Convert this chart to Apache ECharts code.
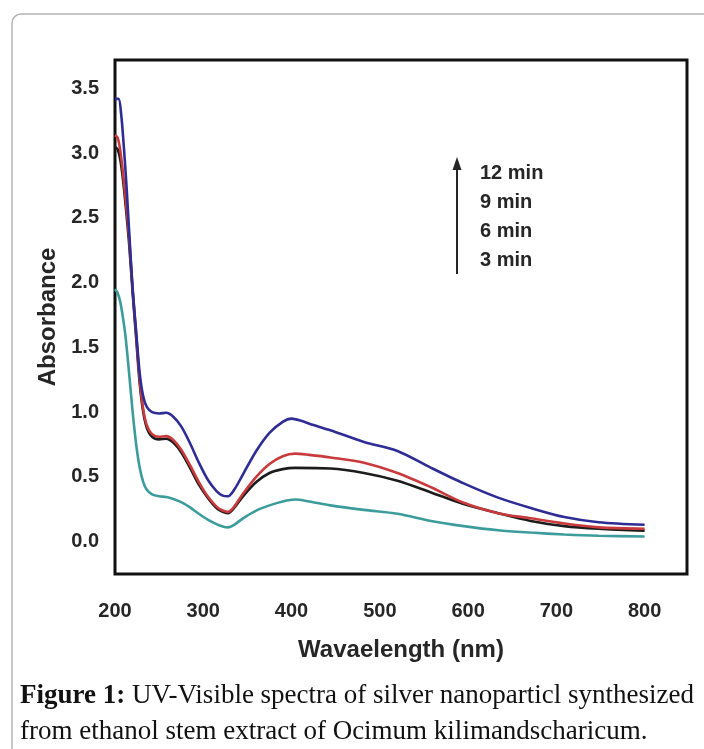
<!DOCTYPE html>
<html>
<head>
<meta charset="utf-8">
<title>UV-Visible spectra</title>
<script src="https://cdn.jsdelivr.net/npm/echarts@6/dist/echarts.min.js"></script>
<style>
  html, body { margin: 0; padding: 0; background: #fff; }
  #chart { width: 704px; height: 749px; }
</style>
</head>
<body>
<div id="chart"></div>
<script>
// wavelength (nm) / absorbance pairs
var min12 = [[200,3.42],[204,3.42],[207,3.3],[210,3.05],[213,2.75],[216,2.4],[220,1.95],[224,1.62],[228,1.3],[232,1.12],[236,1.04],[242,1.0],[250,0.99],[258,0.995],[266,0.965],[275,0.89],[285,0.76],[295,0.61],[305,0.48],[315,0.39],[322,0.355],[328,0.35],[335,0.4],[345,0.52],[360,0.7],[375,0.84],[390,0.925],[400,0.95],[410,0.935],[425,0.9],[444,0.86],[482,0.77],[520,0.70],[558,0.57],[595,0.45],[634,0.34],[671,0.26],[709,0.19],[748,0.15],[800,0.13]];
var min9 = [[200,3.14],[203,3.12],[206,3.02],[209,2.85],[212,2.65],[216,2.35],[220,1.95],[224,1.6],[228,1.25],[232,1.02],[236,0.9],[242,0.83],[250,0.81],[258,0.815],[266,0.785],[275,0.71],[285,0.59],[295,0.46],[305,0.35],[315,0.27],[322,0.24],[328,0.23],[335,0.27],[345,0.37],[360,0.5],[375,0.6],[390,0.66],[404,0.68],[420,0.67],[444,0.65],[482,0.61],[520,0.53],[558,0.42],[595,0.30],[634,0.22],[671,0.18],[709,0.14],[748,0.11],[800,0.10]];
var min6 = [[200,3.05],[203,3.03],[206,2.95],[209,2.8],[212,2.6],[216,2.3],[220,1.92],[224,1.57],[228,1.22],[232,1.0],[236,0.88],[242,0.81],[250,0.79],[258,0.795],[266,0.765],[275,0.69],[285,0.57],[295,0.44],[305,0.34],[315,0.26],[322,0.23],[328,0.22],[335,0.26],[345,0.35],[360,0.46],[375,0.53],[390,0.56],[404,0.57],[444,0.565],[482,0.53],[520,0.47],[558,0.38],[595,0.29],[634,0.22],[671,0.16],[709,0.12],[748,0.10],[800,0.085]];
var min3 = [[200,1.95],[203,1.92],[206,1.85],[209,1.73],[212,1.58],[216,1.3],[220,1.0],[224,0.75],[228,0.57],[232,0.46],[236,0.4],[242,0.365],[250,0.35],[258,0.345],[266,0.33],[275,0.305],[285,0.265],[295,0.215],[305,0.17],[315,0.135],[322,0.117],[328,0.11],[335,0.13],[345,0.18],[360,0.24],[375,0.28],[390,0.31],[404,0.325],[420,0.31],[444,0.28],[482,0.245],[520,0.215],[558,0.16],[595,0.12],[634,0.088],[671,0.07],[709,0.055],[748,0.045],[800,0.04]];

var legendLabels = ['12 min', '9 min', '6 min', '3 min'];
var captionBold = 'Figure 1:';
var captionLine1 = ' UV-Visible spectra of silver nanoparticl synthesized';
var captionLine2 = 'from ethanol stem extract of Ocimum kilimandscharicum.';

var chart = echarts.init(document.getElementById('chart'), null, {renderer: 'canvas'});

var sans = '"Liberation Sans", Arial, sans-serif';
var serif = '"Liberation Serif", "Times New Roman", serif';
var ink = '#262626';

function line(name, data, color) {
  return {
    name: name,
    type: 'line',
    data: data,
    smooth: 0.3,
    showSymbol: false,
    lineStyle: {color: color, width: 2.6},
    silent: true
  }
}

var annot = [
  {type: 'line', shape: {x1: 457, y1: 274, x2: 457, y2: 166}, style: {stroke: ink, lineWidth: 2}},
  {type: 'polygon', shape: {points: [[457, 157], [452.5, 170], [461.5, 170]]}, style: {fill: ink}}
];
legendLabels.forEach(function (t, i) {
  annot.push({
    type: 'text', x: 480, y: 173 + i * 29.3,
    style: {text: t, font: 'bold 20px ' + sans, fill: ink, verticalAlign: 'middle'}
  })
});

chart.setOption({
  animation: false,
  backgroundColor: '#fff',
  grid: {left: 115, right: 17, top: 60, bottom: 175, show: true, borderColor: '#111', borderWidth: 3, backgroundColor: 'transparent'},
  xAxis: {
    type: 'value', min: 200, max: 848, interval: 100,
    axisLine: {show: false}, axisTick: {show: false}, splitLine: {show: false},
    axisLabel: {showMaxLabel: false, margin: 27, color: ink, fontFamily: sans, fontWeight: 'bold', fontSize: 20},
    name: 'Wavaelength (nm)', nameLocation: 'middle', nameGap: 64,
    nameTextStyle: {color: ink, fontFamily: sans, fontWeight: 'bold', fontSize: 24}
  },
  yAxis: {
    type: 'value', min: -0.25, max: 3.72, interval: 0.25,
    axisLine: {show: false}, axisTick: {show: false}, splitLine: {show: false},
    axisLabel: {
      showMaxLabel: false, margin: 16, color: ink, fontFamily: sans, fontWeight: 'bold', fontSize: 20,
      formatter: function (v) {
        var r = Math.round(v * 100) / 100;
        if (r < 0 || Math.abs(r * 2 - Math.round(r * 2)) > 1e-6) return '';
        return r.toFixed(1);
      }
    },
    name: 'Absorbance', nameLocation: 'middle', nameRotate: 90, nameGap: 50,
    nameTextStyle: {color: ink, fontFamily: sans, fontWeight: 'bold', fontSize: 24}
  },
  series: [
    line('6 min', min6, '#1c1c1c'),
    line('9 min', min9, '#c83a3c'),
    line('12 min', min12, '#2e2c95'),
    line('3 min', min3, '#3c9c9c')
  ],
  graphic: [
    {type: 'rect', z: -10, shape: {x: 12, y: 14, width: 740, height: 780, r: 9}, style: {fill: 'none', stroke: '#b4b4b4', lineWidth: 1.5}},
    {type: 'group', children: annot},
    {
      type: 'text', x: 20, y: 696,
      style: {
        text: '{b|' + captionBold + '}' + captionLine1,
        font: '27px ' + serif, fill: '#111', verticalAlign: 'middle',
        rich: {b: {font: 'bold 27px ' + serif, fill: '#111'}}
      }
    },
    {
      type: 'text', x: 20, y: 732,
      style: {text: captionLine2, font: '27px ' + serif, fill: '#111', verticalAlign: 'middle'}
    }
  ]
});
</script>
</body>
</html>
